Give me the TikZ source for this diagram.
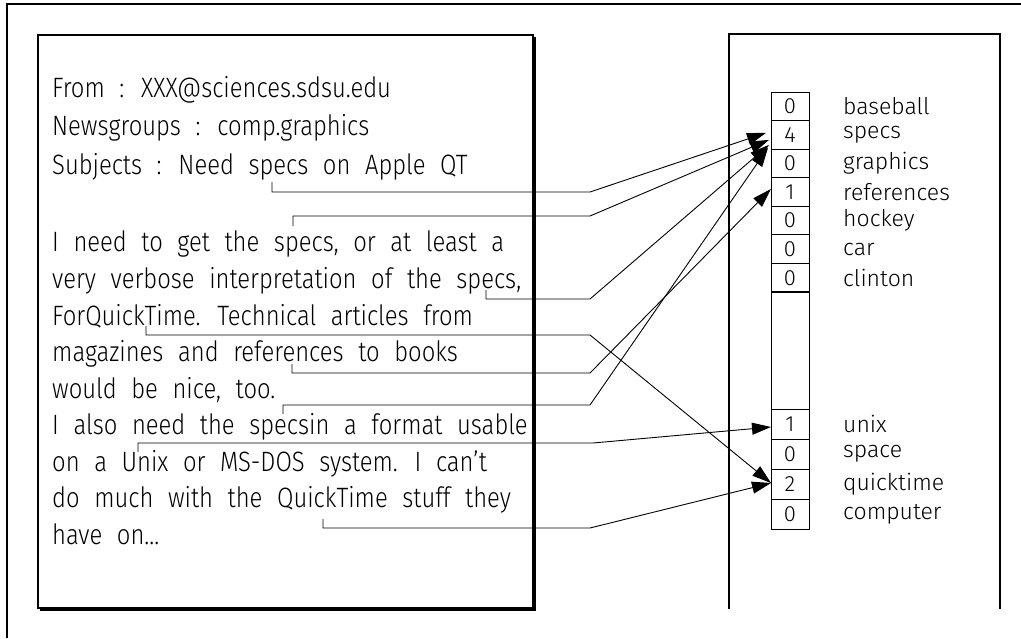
\documentclass[tikz,border=0pt]{standalone}
\usepackage{fontspec}
\IfFontExistsTF{Fira Sans Light}{%
  \setmainfont{Fira Sans Light}[FakeStretch=0.85,WordSpace=2.2]
  \newfontfamily\lblfont{Fira Sans Light}[Numbers=Lining]}{%
  \setmainfont{Liberation Sans}[FakeStretch=0.85,WordSpace=2.2]
  \newfontfamily\lblfont{Liberation Sans}}
\usetikzlibrary{arrows.meta,calc}
\begin{document}
\begin{tikzpicture}[x=1pt,y=-1pt,
  txt/.style={anchor=base west,inner sep=0pt,font=\fontsize{28}{34}\selectfont},
  lbl/.style={anchor=west,inner sep=0pt,font=\lblfont\fontsize{23}{28}\selectfont},
  cell/.style={draw,minimum width=38pt,inner sep=0pt,outer sep=0pt,line width=1pt,font=\lblfont\fontsize{22}{26}\selectfont},
  frame/.style={line width=1.2pt},
  shadow/.style={line width=4pt},
  conn/.style={line width=0.9pt},
  arr/.style={conn,-{Triangle[length=19pt,width=12pt]}}]
\useasboundingbox (0,0) rectangle (1021,638);
% outer frame
\draw[frame] (7,638) -- (7,4) -- (1021,4);
% left box with shadow
\draw[frame] (38,35) rectangle (533,608);
\draw[shadow] (534,37) -- (534,609) -- (40,609);
% right box (open at the bottom)
\draw[frame] (729,609) -- (729,34) -- (1000,34) -- (1000,609);
% text of the article
\node[txt] (t1) at (52,97) {From : XXX@sciences.sdsu.edu};
\node[txt] (t2) at (52,135.5) {Newsgroups : comp.graphics};
\node[txt] (t3) at (52,174) {Subjects : Need specs on Apple QT};
\node[txt] (t4) at (52,251.5) {I need to get the specs, or at least a};
\node[txt] (t5) at (52,288) {very verbose interpretation of the specs,};
\node[txt] (t6) at (52,325) {ForQuickTime. Technical articles from};
\node[txt] (t7) at (52,361.5) {magazines and references to books};
\node[txt] (t8) at (52,398) {would be nice, too.};
\node[txt] (t9) at (52,434.5) {I also need the specsin a format usable};
\node[txt] (t10) at (52,471) {on a Unix or MS-DOS system. I can't};
\node[txt] (t11) at (52,507.5) {do much with the QuickTime stuff they};
\node[txt] (t12) at (52,544) {have on...};
% vector
\foreach \v/\w [count=\i] in {0/baseball,4/specs,0/graphics,1/references,0/hockey,0/car,0/clinton}{
  \node[cell,minimum height=28.57pt] (c\i) at (790,{92+28.57*(\i-0.5)}) {\v};
  \node[lbl] (l\i) at (843,{92+28.57*(\i-0.5)}) {\w};
}
\node[cell,minimum height=117pt] (gap) at (790,350.5) {};
\foreach \v/\w [count=\i] in {1/unix,0/space,2/quicktime,0/computer}{
  \node[cell,minimum height=30pt] (d\i) at (790,{409+30*(\i-0.5)}) {\v};
  \node[lbl] (m\i) at (843,{409+30*(\i-0.5)}) {\w};
}
% word marks
\coordinate (w1) at (272,182);
\coordinate (w2) at (293,226);
\coordinate (w3) at (486,290);
\coordinate (w4) at (146,326);
\coordinate (w5) at (292,364);
\coordinate (w6) at (283,414);
\coordinate (w7) at (138,452);
\coordinate (w8) at (323,519);
% connectors
\draw[arr] (w1) -- (272,192) -- (590,192) -- ($(c2.west)+(-5,-2)$);
\draw[arr] (w2) -- (293,216) -- (590,216) -- ($(c2.west)+(-2,5)$);
\draw[arr] (w3) -- (486,299) -- (590,299) -- ($(c2.west)+(-2,10)$);
\draw[arr] (w4) -- (146,335) -- (590,335) -- ($(d3.west)+(0,-1)$);
\draw[arr] (w5) -- (292,373) -- (590,373) -- ($(c4.west)+(0,-3)$);
\draw[arr] (w6) -- (283,405) -- (590,405) -- ($(c2.west)+(-3,13)$);
\draw[arr] (w7) -- (138,443) -- (593,443) -- ($(d1.west)+(0,3)$);
\draw[arr] (w8) -- (323,528) -- (590,528) -- ($(d3.west)+(0,-1)$);
\end{tikzpicture}
\end{document}
